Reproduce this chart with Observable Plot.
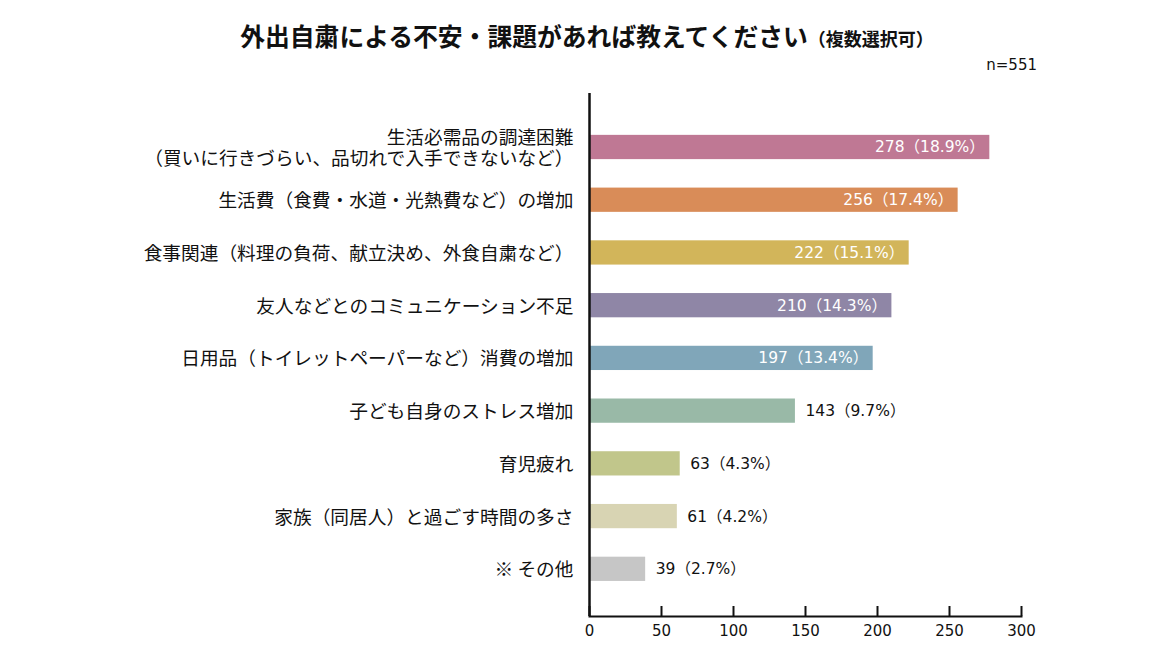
<!DOCTYPE html>
<html><head><meta charset="utf-8">
<script src="https://cdn.jsdelivr.net/npm/d3@7"></script>
<script src="https://cdn.jsdelivr.net/npm/@observablehq/plot@0.6"></script>
<style>
body{margin:0;background:#fff;font-family:"Noto Sans CJK JP",sans-serif;}
#head{position:relative;width:1174px;height:80px;}
#title{position:absolute;left:0;width:1174px;top:17px;text-align:center;font-size:24.8px;font-weight:700;color:#111;line-height:36px}
#title span{font-size:18px}
#n{position:absolute;right:137px;top:54px;font-size:15px;color:#111;line-height:22px;font-family:"DejaVu Sans",sans-serif}
</style></head><body>
<div id="head"><div id="title">外出自粛による不安・課題があれば教えてください<span>（複数選択可）</span></div><div id="n">n=551</div></div>
<div id="chart"></div>
<script>
const categories = [
  "生活必需品の調達困難\n（買いに行きづらい、品切れで入手できないなど）",
  "生活費（食費・水道・光熱費など）の増加",
  "食事関連（料理の負荷、献立決め、外食自粛など）",
  "友人などとのコミュニケーション不足",
  "日用品（トイレットペーパーなど）消費の増加",
  "子ども自身のストレス増加",
  "育児疲れ",
  "家族（同居人）と過ごす時間の多さ",
  "※ その他"
];
const counts = [278, 256, 222, 210, 197, 143, 63, 61, 39];
const percents = [18.9, 17.4, 15.1, 14.3, 13.4, 9.7, 4.3, 4.2, 2.7];
const colors = ["#bf7894", "#d98c58", "#d2b55a", "#8f86a6", "#80a6b9", "#99b9a7", "#c1c68b", "#d8d4b3", "#c6c6c6"];
const xTicks = [0, 50, 100, 150, 200, 250, 300];

const data = categories.map((c, i) => ({
  category: c, count: counts[i], pct: percents[i], color: colors[i],
  label: `${counts[i]}（${percents[i].toFixed(1)}%）`
}));

const font = '"Noto Sans CJK JP", sans-serif';
const numFont = '"DejaVu Sans", "Noto Sans CJK JP", sans-serif';
const chart = Plot.plot({
  width: 1174, height: 581,
  marginLeft: 589, marginRight: 153, marginTop: 13, marginBottom: 45,
  style: {fontFamily: font, fontSize: "16px", color: "#111", background: "#fff"},
  x: {domain: [0, 300]},
  y: {domain: categories, range: [28.5, 527.3], paddingInner: 0.54, paddingOuter: 0.5, round: false},
  color: {type: "identity"},
  marks: [
    Plot.barX(data, {y: "category", x: "count", fill: "color"}),
    Plot.text(data.filter(d => d.count >= 150), {y: "category", x: "count", text: "label", textAnchor: "end", dx: -5, fill: "white", fontSize: 15.5, fontFamily: numFont}),
    Plot.text(data.filter(d => d.count < 150), {y: "category", x: "count", text: "label", textAnchor: "start", dx: 10, fill: "#111", fontSize: 15.5, fontFamily: numFont}),
    Plot.axisY({tickSize: 0, tickPadding: 16, fontSize: 18.7, lineHeight: 1.17, textAnchor: "end", label: null, fill: "#111"}),
    Plot.axisX({ticks: xTicks, tickSize: 0, tickPadding: 9, fontSize: 15, fontFamily: numFont, label: null, fill: "#111"}),
    Plot.axisX({ticks: xTicks, tickSize: 10, dy: -10, tickFormat: () => "", strokeWidth: 2, stroke: "#111", label: null}),
    Plot.frame({anchor: "bottom", strokeWidth: 2, stroke: "#111"}),
    Plot.ruleX([0], {strokeWidth: 2.5, stroke: "#111"})
  ]
});
document.getElementById("chart").append(chart);
</script>
</body></html>
